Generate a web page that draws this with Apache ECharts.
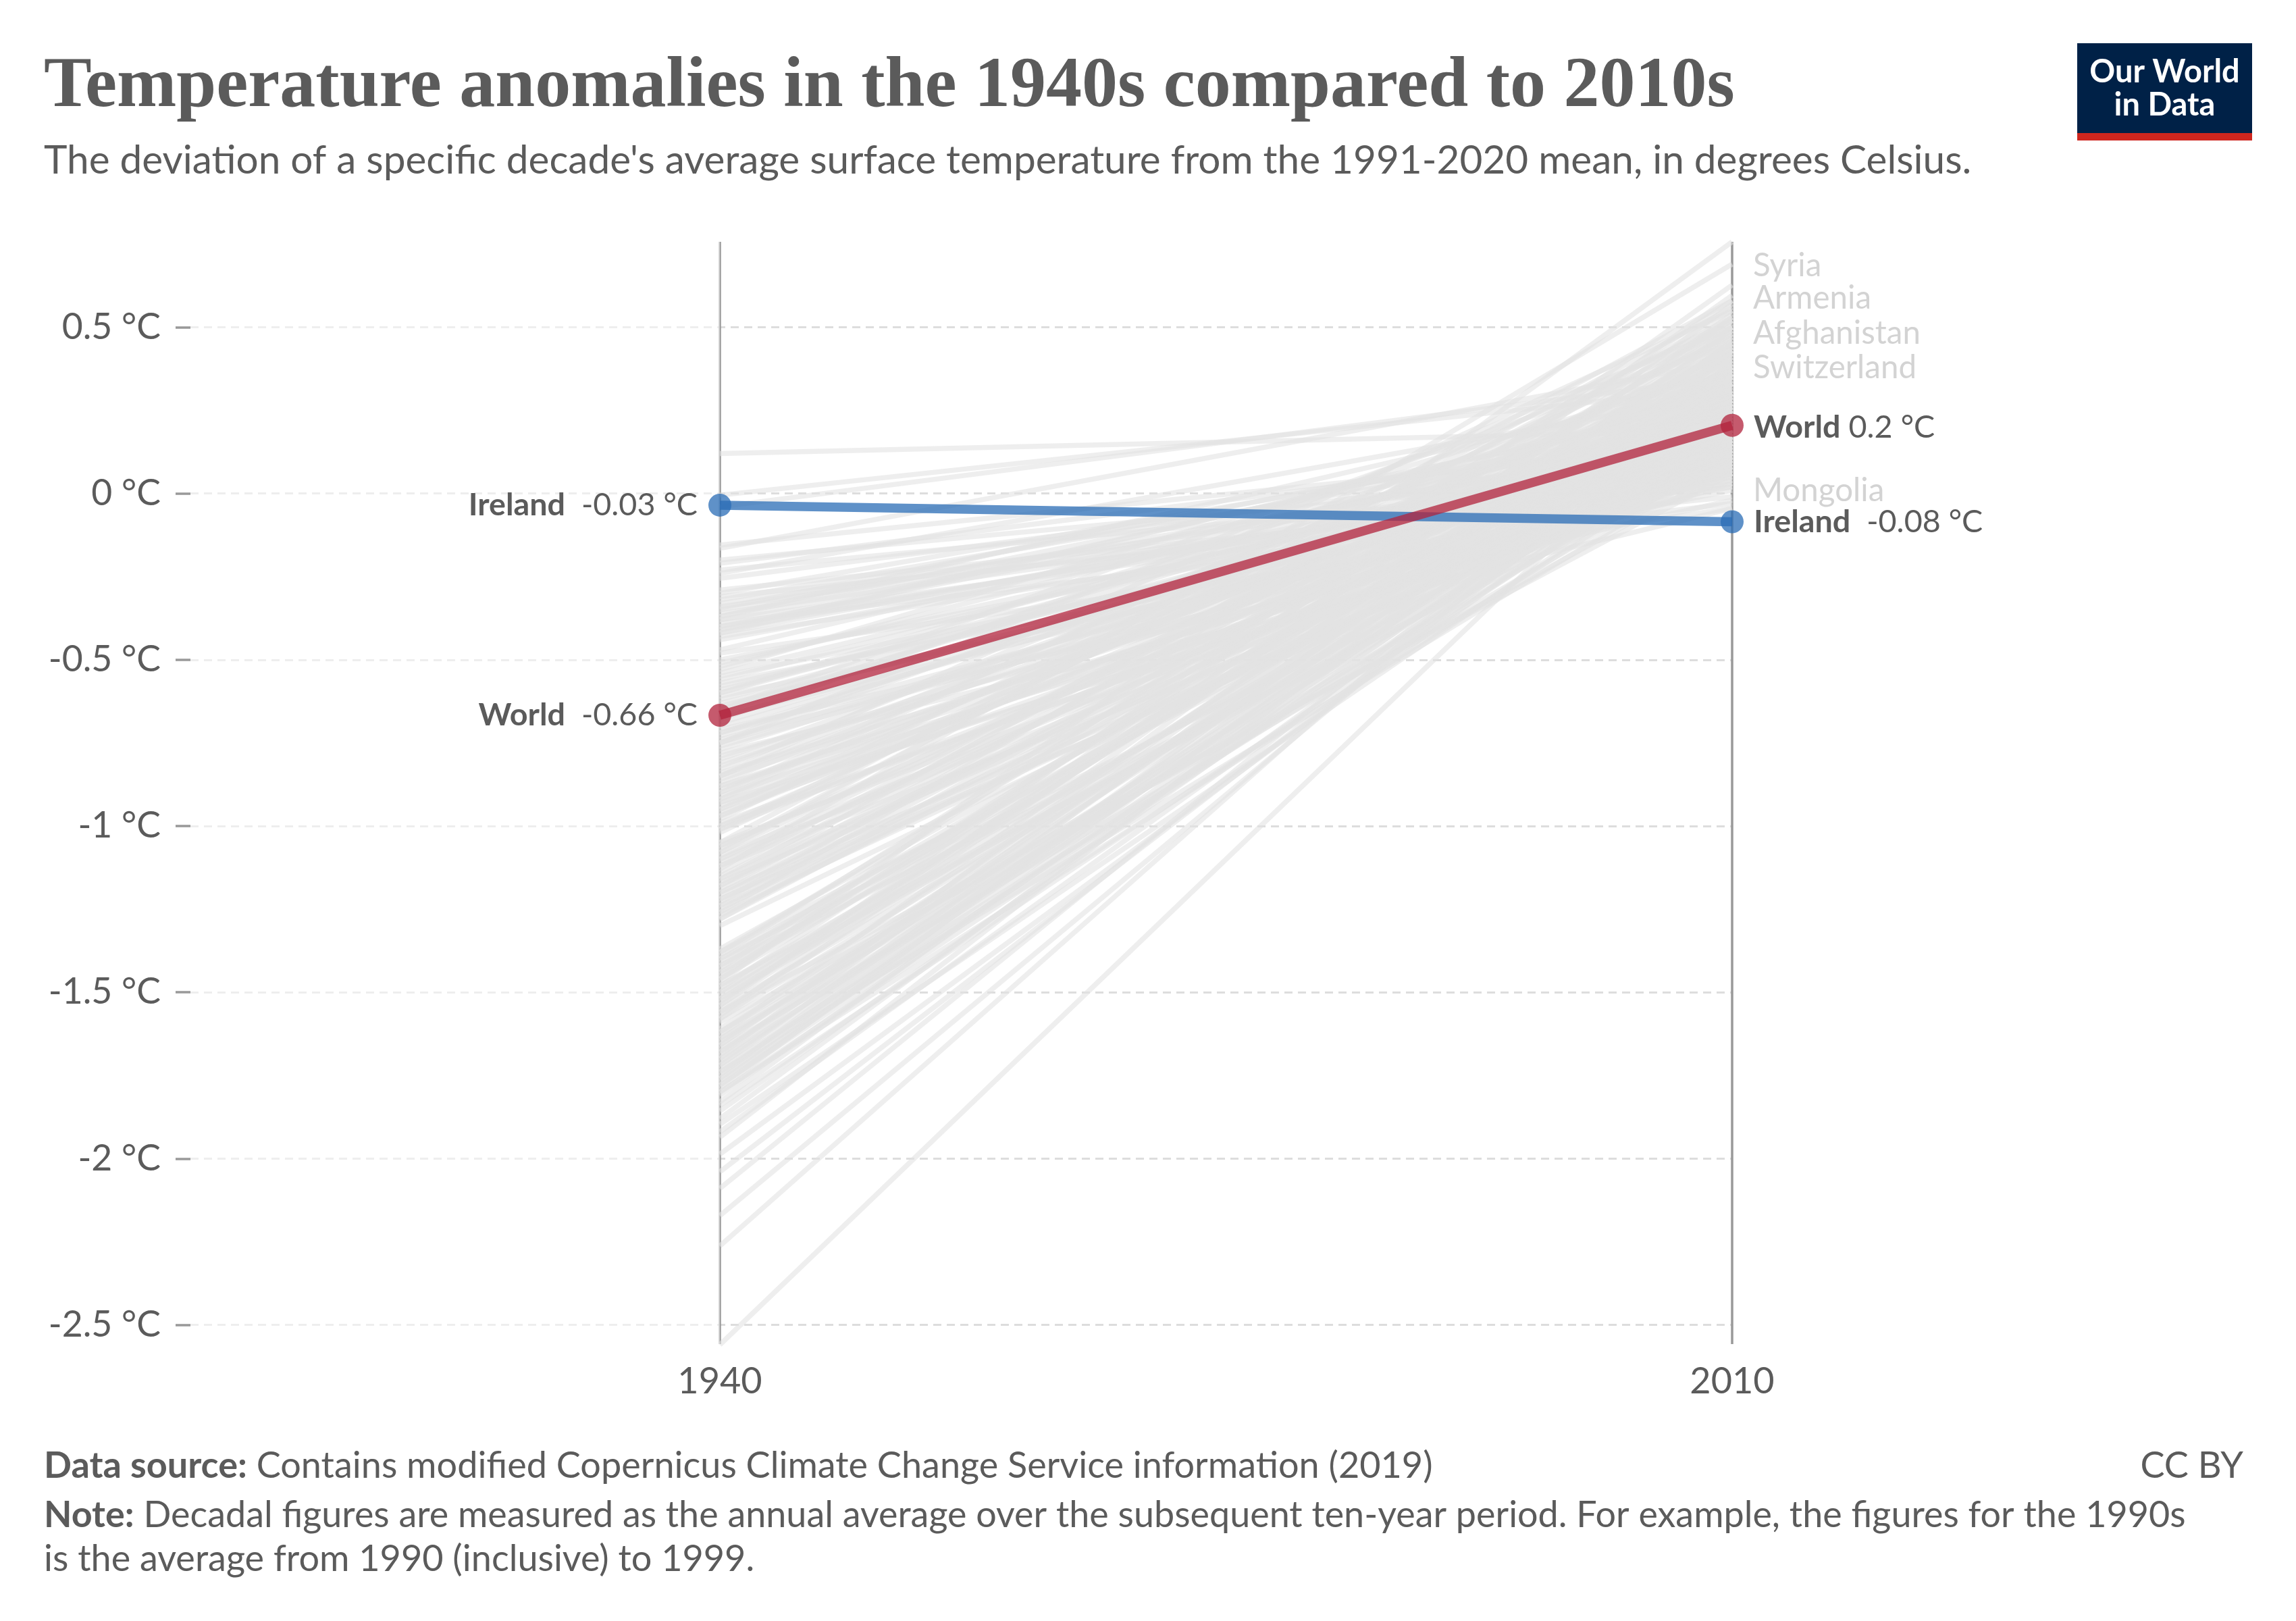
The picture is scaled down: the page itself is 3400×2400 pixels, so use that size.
<!DOCTYPE html>
<html><head><meta charset="utf-8">
<style>html,body{margin:0;padding:0;background:#fff}#c{width:3400px;height:2400px}</style>
<script src="https://cdn.jsdelivr.net/npm/echarts@6/dist/echarts.min.js"></script>
</head><body><div id="c"></div>
<script>
const years = [1940, 2010];
const yTicks = [-2.5, -2, -1.5, -1, -0.5, 0, 0.5];
const otherStart = [0.12,-0.005,-0.04,-0.155,-0.165,-0.2,-0.21,-0.23,-0.24,-0.255,-0.29,-0.3,-0.31,-0.33,-0.345,-0.36,-0.37,-0.38,-0.39,-0.4,-0.41,-0.42,-0.43,-0.47,-0.48,-0.51,-0.53,-0.55,-0.56,-0.58,-0.6,-0.61,-0.62,-0.64,-0.65,-0.67,-0.68,-0.7,-0.71,-0.72,-0.74,-0.75,-0.76,-0.77,-0.78,-0.8,-0.81,-0.83,-0.84,-0.85,-0.86,-0.87,-0.88,-0.89,-0.9,-0.91,-0.92,-0.93,-0.94,-0.95,-0.96,-0.97,-0.98,-0.99,-1,-1.01,-1.02,-1.05,-1.06,-1.07,-1.08,-1.09,-1.1,-1.11,-1.12,-1.13,-1.15,-1.16,-1.17,-1.18,-1.19,-1.2,-1.21,-1.22,-1.23,-1.24,-1.25,-1.26,-1.27,-1.28,-1.3,-1.37,-1.38,-1.39,-1.4,-1.41,-1.42,-1.43,-1.44,-1.45,-1.46,-1.47,-1.48,-1.49,-1.5,-1.51,-1.52,-1.53,-1.54,-1.55,-1.56,-1.57,-1.58,-1.59,-1.61,-1.62,-1.63,-1.64,-1.65,-1.66,-1.67,-1.68,-1.69,-1.7,-1.71,-1.72,-1.73,-1.74,-1.75,-1.76,-1.77,-1.78,-1.79,-1.8,-1.81,-1.83,-1.84,-1.857,-1.88,-1.897,-1.92,-1.936,-1.987,-2.04,-2.09,-2.172,-2.263,-2.56,
-0.32,-0.34,-0.35,-0.37,-0.38,-0.4,-0.41,-0.42,-0.44,-0.5,-0.52,-0.54,-0.57,-0.59,-0.6,-0.63,-0.66,-0.69,-0.72,-0.73,-0.75,-0.79,-0.82,-0.85,-0.88,-0.9,-0.93,-0.95,-0.97,-1,-1.01,-1.06,-1.08,-1.1,-1.12,-1.14,-1.16,-1.18,-1.2,-1.22,-1.24,-1.26,-1.28,-1.38,-1.4,-1.42,-1.44,-1.46,-1.48,-1.5,-1.52,-1.54,-1.56,-1.58,-1.62,-1.64,-1.66,-1.68,-1.7,-1.72,-1.74,-1.76,-1.78,-1.8,-0.92,-0.85,-1.05,-0.75,-0.65];
const otherEnd = [0.19,0.32,0.35,0.15,0.4,0.08,0.17,0.05,0.3,0.13,0.02,0.22,-0.01,0.11,0.26,0.07,0.33,0.18,-0.03,0.09,0.28,0.14,0.04,0.24,-0.045,0.16,0.37,0.06,0.21,0.1,0.31,0.01,0.19,0.12,0.27,0.08,0.39,0.15,-0.02,0.23,0.05,0.34,0.11,0.2,-0.045,0.29,0.13,0.42,0.07,0.25,0.16,0.36,0.03,0.22,0.47,0.1,0.3,0.18,0.06,0.4,0.14,0.26,0.5,0.09,0.33,0.19,0.44,0.12,0.28,0.53,0.56,0.17,0.38,0.23,0.08,0.69,0.31,0.46,0.15,0.26,0.41,0.11,0.35,0.2,0.49,0.13,0.29,0.55,0.24,0.43,0.17,0.32,0.21,0.51,0.14,0.37,0.27,0.58,0.19,0.45,0.33,0.757,0.24,0.52,0.16,0.4,0.3,0.48,0.627,0.22,0.36,0.596,0.28,0.08,0.42,0.19,0.54,0.31,0.25,0.47,0.12,0.38,0.57,0.23,0.34,0.44,0.17,0.29,0.5,0.21,0.39,0.26,0.46,0.15,0.33,0.41,0.2,0.3,0.36,0.18,0.27,0.43,0.25,0.3,0.38,0.36,0.43,0.36,
0.2,0.06,0.16,0.24,0.03,0.19,0.11,0.29,0.13,0.09,0.26,0.18,0.02,0.14,0.23,0.06,0.33,0.2,0.1,0.28,0.16,0.07,0.24,0.37,0.12,0.28,0.04,0.2,0.35,0.11,0.42,0.22,0.37,0.13,0.3,0.48,0.18,0.52,0.27,0.09,0.38,0.16,0.33,0.44,0.28,0.1,0.35,0.5,0.13,0.38,0.21,0.45,0.06,0.53,0.33,0.15,0.39,0.24,0.49,0.3,0.11,0.43,0.35,0.24,0.52,0.55,0.58,0.5,0.45];
const worldValues = [-0.667, 0.205];
const irelandValues = [-0.035, -0.085];
const worldLabels = ['-0.66','0.2'];
const irelandLabels = ['-0.03','-0.08'];
const dimNames = ['Syria','Armenia','Afghanistan','Switzerland','Mongolia'];
const dimNameLevels = [0.684,0.586,0.481,0.377,0.009];

const LATO = 'Lato', GREY = '#5b5b5b';
const axisMin = 1940 - (1066-282)/((2565-1066)/70);
const yMin = -2.558, yMax = 0.757;

const series = [];
series.push({type:'line',silent:true,data:[],z:1,
  markArea:{silent:true,z:1,itemStyle:{color:'rgba(255,255,255,0.5)'},
    data:[[{xAxis:axisMin},{xAxis:years[0]}]]}});
otherStart.forEach((s,i)=>series.push({type:'line',silent:true,clip:false,showSymbol:false,z:2,
  data:[[years[0],s],[years[1],otherEnd[i]]],
  lineStyle:{color:'#e3e3e3',opacity:0.6,width:7.5,cap:'butt'}}));
series.push({type:'scatter',silent:true,clip:false,z:3,symbolSize:0,
  data:dimNames.map((n,i)=>({name:n,value:[years[1],dimNameLevels[i]]})),
  label:{show:true,position:'right',distance:31,formatter:p=>p.name,fontFamily:LATO,fontSize:47.5,color:'#c8c8c8'}});
function focus(vals,labels,color,name,rightOffset){
  const mk=(i,pos,t)=>({value:[years[i],vals[i]],label:{show:true,position:pos,distance:i?15:16,offset:i?[0,rightOffset]:[0,0],
    formatter:t,fontFamily:LATO,fontSize:46.7,color:GREY,
    rich:{b:{fontFamily:LATO,fontSize:46.7,fontWeight:'bold',color:GREY},r:{fontFamily:LATO,fontSize:46.7,color:GREY}}}});
  series.push({type:'line',silent:true,clip:false,z:5,symbol:'circle',symbolSize:34,showSymbol:true,
    data:[mk(0,'left','{b|'+name+'}{r|  '+labels[0]+' °C}'),mk(1,'right','{b|'+name+'}{r|'+(name==='World'?' ':'  ')+labels[1]+' °C}')],
    lineStyle:{color,width:13.5,cap:'butt'},itemStyle:{color}});
}
focus(irelandValues,irelandLabels,'rgba(42,108,181,0.75)','Ireland',0);
focus(worldValues,worldLabels,'rgba(178,35,60,0.75)','World',3);

const txt=(x,y,text,o={})=>({type:'text',x,y,silent:true,z:10,style:Object.assign({text,fontFamily:LATO,fontSize:54,fill:GREY,textVerticalAlign:'middle'},o)});
const chart = echarts.init(document.getElementById('c'),null,{renderer:'canvas'});
chart.setOption({
  animation:false,backgroundColor:'#fff',
  grid:{left:282,right:835,top:358,bottom:410,containLabel:false},
  xAxis:{type:'value',min:axisMin,max:years[1],
    axisLine:{show:false},axisTick:{show:false,customValues:years},
    axisLabel:{customValues:years,fontFamily:LATO,fontSize:54,color:GREY,margin:29,formatter:v=>String(v),hideOverlap:false,showMinLabel:true,showMaxLabel:true},
    splitLine:{show:true,lineStyle:{color:'#999',width:3.5}}},
  yAxis:{type:'value',min:yMin,max:yMax,
    axisLine:{show:false},axisTick:{show:true,length:22,lineStyle:{color:'#999',width:3.5},customValues:yTicks},
    axisLabel:{customValues:yTicks,fontFamily:LATO,fontSize:53.5,color:GREY,margin:44,formatter:v=>v+' °C',showMinLabel:true,showMaxLabel:true},
    splitLine:{show:true,lineStyle:{color:'#dddddd',width:3,type:[12,8]}}},
  series,
  graphic:[
    txt(65,130,'Temperature anomalies in the 1940s compared to 2010s',{fontFamily:'Liberation Serif',fontWeight:'bold',fontSize:106}),
    txt(65,238,"The deviation of a specific decade's average surface temperature from the 1991-2020 mean, in degrees Celsius.",{fontSize:58.5}),
    {type:'rect',silent:true,z:9,shape:{x:3076,y:64,width:259,height:133},style:{fill:'#002147'}},
    {type:'rect',silent:true,z:9,shape:{x:3076,y:197,width:259,height:11},style:{fill:'#ce261e'}},
    txt(3205.5,107,'Our World',{fill:'#fff',fontWeight:'bold',fontSize:47,textAlign:'center'}),
    txt(3205.5,156,'in Data',{fill:'#fff',fontWeight:'bold',fontSize:47,textAlign:'center'}),
    {type:'text',x:65,y:2171,silent:true,z:10,style:{text:'{b|Data source:} Contains modified Copernicus Climate Change Service information (2019)',fontFamily:LATO,fontSize:54,fill:GREY,textVerticalAlign:'middle',rich:{b:{fontFamily:LATO,fontSize:54,fontWeight:'bold',fill:GREY}}}},
    txt(3322,2171,'CC BY',{textAlign:'right'}),
    {type:'text',x:65,y:2244,silent:true,z:10,style:{text:'{b|Note:} Decadal figures are measured as the annual average over the subsequent ten-year period. For example, the figures for the 1990s',fontFamily:LATO,fontSize:53.9,fill:GREY,textVerticalAlign:'middle',rich:{b:{fontFamily:LATO,fontSize:53.9,fontWeight:'bold',fill:GREY}}}},
    txt(65,2309,'is the average from 1990 (inclusive) to 1999.')
  ]
});
</script></body></html>
